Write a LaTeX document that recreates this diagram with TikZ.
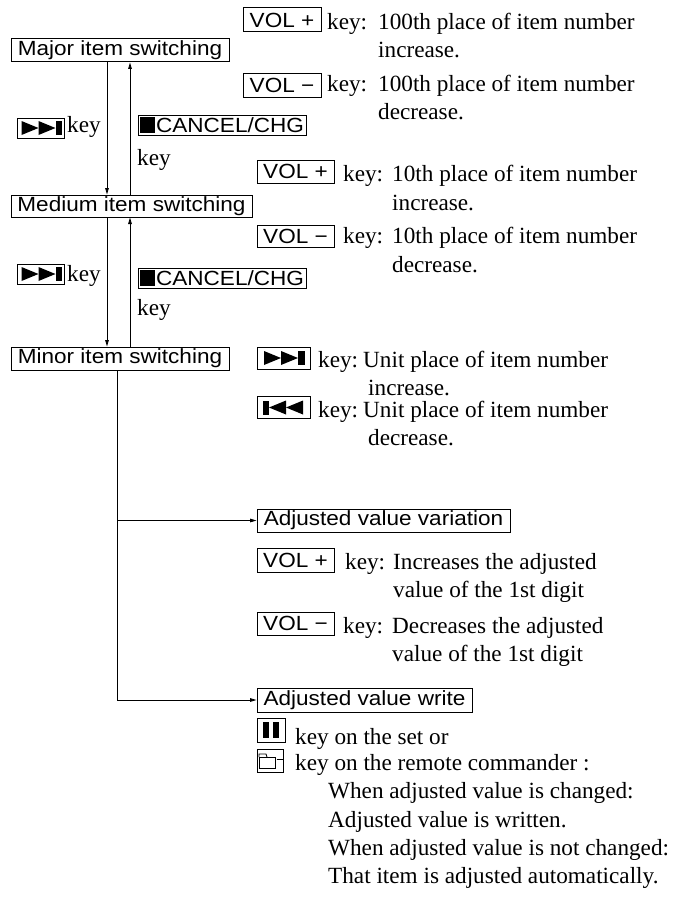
\documentclass[tikz,border=0pt]{standalone}
\usepackage{fontspec}
\setmainfont{Liberation Serif}
\setsansfont[FakeStretch=1.1]{Liberation Sans}
\usetikzlibrary{arrows.meta}
\tikzset{
  sfbox/.style={draw, line width=1pt, inner sep=0pt, font=\sffamily\fontsize{20.5}{24}\selectfont},
  symbox/.style={draw, line width=1pt, inner sep=0pt},
  txt/.style={anchor=base west, inner sep=0pt, font=\fontsize{23.2}{28}\selectfont},
  arr/.style={line width=0.8pt, -{Triangle[length=6.5pt,width=3.6pt]}},
  ffsym/.pic={
    \fill (-19.5,-7) -- (-2.5,0) -- (-19.5,7) -- cycle;
    \fill (-2.5,-7) -- (14.5,0) -- (-2.5,7) -- cycle;
    \fill (14.5,-7) rectangle (21,7);
  }
}
\begin{document}
\begin{tikzpicture}[x=1pt,y=-1pt]
\useasboundingbox (0,0) rectangle (691,899);

% main boxes
\node[sfbox, minimum width=218pt, minimum height=23pt] (major)  at (120,50.5)  {Major item switching};
\node[sfbox, minimum width=241pt, minimum height=22pt] (medium) at (131.5,206) {Medium item switching};
\node[sfbox, minimum width=218pt, minimum height=23pt] (minor)  at (120,358.5) {Minor item switching};
\node[sfbox, minimum width=253pt, minimum height=23pt] (var)    at (383.5,520.5) {Adjusted value variation};
\node[sfbox, minimum width=215pt, minimum height=24pt] (write)  at (364.5,700) {Adjusted value write};

% connector columns
\coordinate (cdown) at (107,0);
\coordinate (cup)   at (130,0);
\coordinate (cbr)   at (117,0);

\draw[arr] (major.south -| cdown) -- (medium.north -| cdown);
\draw[arr] (medium.north -| cup) -- (major.south -| cup);
\draw[arr] (medium.south -| cdown) -- (minor.north -| cdown);
\draw[arr] (minor.north -| cup) -- (medium.south -| cup);
\draw[line width=0.8pt] (minor.south -| cbr) -- (cbr |- write.west);
\draw[arr] (cbr |- var.west) -- (var.west);
\draw[arr] (cbr |- write.west) -- (write.west);

% left key labels, first pair
\node[symbox, minimum width=47pt, minimum height=20pt] (ffa) at (41,128) {};
\pic at (ffa.center) {ffsym};
\node[txt] (keyffa) at (67,132) {key};
\node[sfbox, minimum width=168pt, minimum height=20pt] (cana) at (222,125) {\rule[-1pt]{15pt}{16pt}\kern1pt CANCEL/CHG};
\node[txt] (keycana) at (137,165) {key};

% left key labels, second pair
\node[symbox, minimum width=47pt, minimum height=20pt] (ffb) at (41,274) {};
\pic at (ffb.center) {ffsym};
\node[txt] (keyffb) at (67,281) {key};
\node[sfbox, minimum width=168pt, minimum height=20pt] (canb) at (222,278) {\rule[-1pt]{15pt}{16pt}\kern1pt CANCEL/CHG};
\node[txt] (keycanb) at (137,315) {key};

% group 1: 100th place
\node[sfbox, minimum width=78pt, minimum height=24pt] (vpa) at (282,20) {VOL +};
\node[txt] (kvpa) at (327,30) {key:};
\node[txt] (dvpa) at (378,30) {100th place of item number};
\node[txt] (dvpa2) at (378,57) {increase.};
\node[sfbox, minimum width=78pt, minimum height=24pt] (vma) at (282,85) {VOL −};
\node[txt] (kvma) at (327,92) {key:};
\node[txt] (dvma) at (378,92) {100th place of item number};
\node[txt] (dvma2) at (378,119) {decrease.};

% group 2: 10th place
\node[sfbox, minimum width=77pt, minimum height=23pt] (vpb) at (295.5,171.5) {VOL +};
\node[txt] (kvpb) at (343,181) {key:};
\node[txt] (dvpb) at (392,181) {10th place of item number};
\node[txt] (dvpb2) at (392,210) {increase.};
\node[sfbox, minimum width=77pt, minimum height=22pt] (vmb) at (295.5,236) {VOL −};
\node[txt] (kvmb) at (343,243) {key:};
\node[txt] (dvmb) at (392,243) {10th place of item number};
\node[txt] (dvmb2) at (392,272) {decrease.};

% group 3: unit place
\node[symbox, minimum width=53pt, minimum height=22pt] (ffc) at (283.5,358) {};
\pic at (ffc.center) {ffsym};
\node[txt] (kffc) at (318,367) {key:};
\node[txt] (dffc) at (363,367) {Unit place of item number};
\node[txt] (dffc2) at (368,395) {increase.};
\node[symbox, minimum width=53pt, minimum height=22pt] (rrc) at (283.5,407.5) {};
\pic[xscale=-1] at (rrc.center) {ffsym};
\node[txt] (krrc) at (318,417) {key:};
\node[txt] (drrc) at (363,417) {Unit place of item number};
\node[txt] (drrc2) at (368,445) {decrease.};

% group 4: adjusted value
\node[sfbox, minimum width=77pt, minimum height=24pt] (vpd) at (295.5,560) {VOL +};
\node[txt] (kvpd) at (345,569) {key:};
\node[txt] (dvpd) at (393,569) {Increases the adjusted};
\node[txt] (dvpd2) at (393,597) {value of the 1st digit};
\node[sfbox, minimum width=77pt, minimum height=23pt] (vmd) at (295.5,623.5) {VOL −};
\node[txt] (kvmd) at (343,633) {key:};
\node[txt] (dvmd) at (392,633) {Decreases the adjusted};
\node[txt] (dvmd2) at (392,661) {value of the 1st digit};

% write group
\node[symbox, minimum width=28pt, minimum height=24pt] (pause) at (271,730) {};
\fill ([xshift=-8pt]pause.center) ++(0,-8) rectangle ++(6,16);
\fill ([xshift=2pt]pause.center) ++(0,-8) rectangle ++(6,16);
\node[txt] (tpause) at (295,744) {key on the set or};
\node[symbox, minimum width=26pt, minimum height=23pt] (folder) at (270,760.5) {};
\begin{scope}[shift={(folder.center)}, line width=0.9pt]
  \draw (-11,-3.5) rectangle (5,8);
  \draw (-11,-3.5) -- (-11,-6.5) -- (-4,-6.5) -- (-3,-3.5);
  \draw (6.5,-1) -- (12.5,-1);
\end{scope}
\node[txt] (tfolder) at (295,770) {key on the remote commander :};
\node[txt] (w1) at (328,798) {When adjusted value is changed:};
\node[txt] (w2) at (328,827) {Adjusted value is written.};
\node[txt] (w3) at (328,855) {When adjusted value is not changed:};
\node[txt] (w4) at (328,883) {That item is adjusted automatically.};
\end{tikzpicture}
\end{document}
